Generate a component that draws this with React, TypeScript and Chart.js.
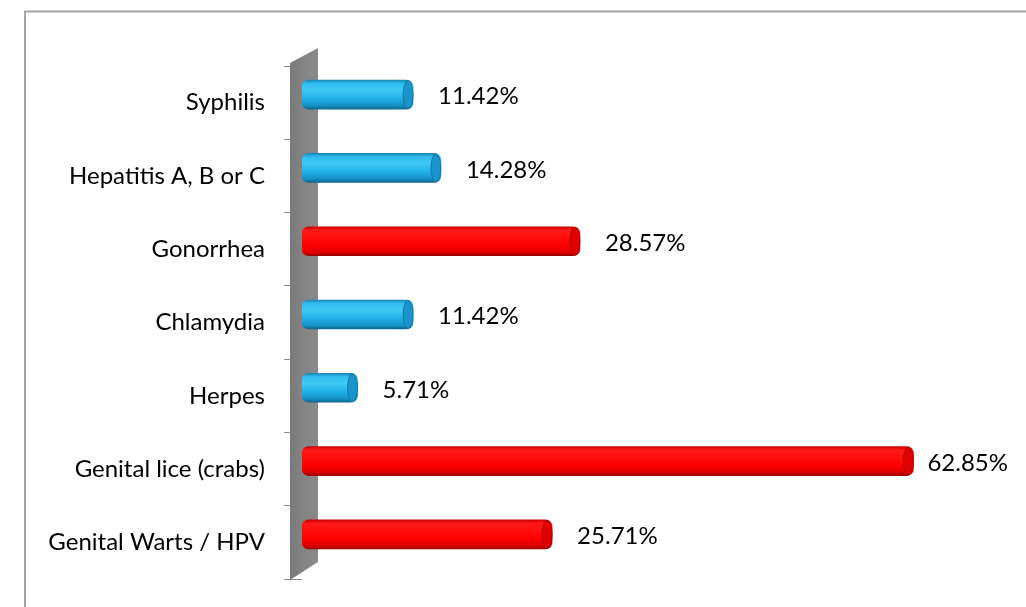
import React, { useEffect, useRef } from "react";
import { Chart, registerables } from "chart.js";

Chart.register(...registerables);

const categories = [
  "Syphilis",
  "Hepatitis A, B or C",
  "Gonorrhea",
  "Chlamydia",
  "Herpes",
  "Genital lice (crabs)",
  "Genital Warts / HPV",
];
const values = [11.42, 14.28, 28.57, 11.42, 5.71, 62.85, 25.71];
const valueLabels = ["11.42%", "14.28%", "28.57%", "11.42%", "5.71%", "62.85%", "25.71%"];
const barTones = ["blue", "blue", "red", "blue", "blue", "red", "red"];

const TONES: Record<string, { stops: [number, string][]; cap: string; edge: string }> = {
  blue: {
    stops: [
      [0, "#1a86b8"],
      [0.12, "#2fbdf0"],
      [0.35, "#3ec8f6"],
      [0.65, "#1eaee6"],
      [0.88, "#1690c6"],
      [1, "#10648e"],
    ],
    cap: "#1a95cc",
    edge: "#0f6f9e",
  },
  red: {
    stops: [
      [0, "#c80000"],
      [0.12, "#ff1a1a"],
      [0.35, "#ff1010"],
      [0.65, "#ff0000"],
      [0.88, "#e00000"],
      [1, "#9a0000"],
    ],
    cap: "#e00000",
    edge: "#a00000",
  },
};

const FONT = "Lato, 'Open Sans', sans-serif";
const BAR_SHIFT_Y = -8;
const BAR_THICK = 29;

export default function App() {
  const ref = useRef<HTMLCanvasElement | null>(null);

  useEffect(() => {
    document.body.style.margin = "0";
    const canvas = ref.current;
    if (!canvas) return;

    const framePlugin = {
      id: "frame",
      beforeDraw(chart: any) {
        const c = chart.ctx;
        c.save();
        c.fillStyle = "#ffffff";
        c.fillRect(0, 0, chart.width, chart.height);
        c.strokeStyle = "#a3a3a3";
        c.lineWidth = 2;
        c.beginPath();
        c.moveTo(25, chart.height);
        c.lineTo(25, 11.5);
        c.lineTo(chart.width, 11.5);
        c.stroke();
        c.restore();
      },
    };

    const wallPlugin = {
      id: "wall",
      beforeDatasetsDraw(chart: any) {
        const { top, bottom, left } = chart.chartArea;
        const c = chart.ctx;
        const xl = left - 12;
        const xr = left + 16;
        c.save();
        const g = c.createLinearGradient(xl, 0, xr, 0);
        g.addColorStop(0, "#7a7a7a");
        g.addColorStop(0.5, "#848484");
        g.addColorStop(1, "#8a8a8a");
        c.fillStyle = g;
        c.beginPath();
        c.moveTo(xl, top - 3);
        c.lineTo(xr, top - 18);
        c.lineTo(xr, bottom - 17);
        c.lineTo(xl, bottom + 1);
        c.closePath();
        c.fill();
        c.restore();
      },
    };

    const barShiftPlugin = {
      id: "barShift",
      beforeDatasetDraw(chart: any) {
        chart.ctx.save();
        chart.ctx.translate(0, BAR_SHIFT_Y);
      },
      afterDatasetDraw(chart: any, args: any) {
        const c = chart.ctx;
        const meta = chart.getDatasetMeta(args.index);
        meta.data.forEach((el: any, i: number) => {
          const tone = TONES[barTones[i]];
          const h = el.height;
          c.save();
          c.beginPath();
          c.ellipse(el.x - 5, el.y, 5, h / 2 - 0.5, 0, 0, Math.PI * 2);
          c.fillStyle = tone.cap;
          c.fill();
          c.strokeStyle = tone.edge;
          c.lineWidth = 0.8;
          c.stroke();
          c.restore();
        });
        c.restore();
      },
      afterDatasetsDraw(chart: any) {
        const c = chart.ctx;
        const meta = chart.getDatasetMeta(0);
        c.save();
        c.fillStyle = "#000000";
        c.font = `24px ${FONT}`;
        c.textAlign = "left";
        c.textBaseline = "middle";
        meta.data.forEach((el: any, i: number) => {
          const w = c.measureText(valueLabels[i]).width;
          const x = Math.min(el.x + 25, chart.width - 18 - w);
          c.fillText(valueLabels[i], x, el.y - 6);
        });
        c.restore();
      },
    };

    const chart = new Chart(canvas, {
      type: "bar",
      data: {
        labels: categories,
        datasets: [
          {
            data: values,
            barThickness: BAR_THICK,
            borderRadius: 7,
            borderSkipped: false,
            borderWidth: 0,
            backgroundColor: (ctx: any) => {
              const tone = TONES[barTones[ctx.dataIndex] || "blue"];
              const chartRef = ctx.chart;
              const ys = chartRef.scales && chartRef.scales.y;
              if (!ys || !chartRef.chartArea) return tone.stops[3][1];
              const yc = ys.getPixelForValue(ctx.dataIndex);
              const g = chartRef.ctx.createLinearGradient(0, yc - BAR_THICK / 2, 0, yc + BAR_THICK / 2);
              tone.stops.forEach(([o, col]) => g.addColorStop(o, col));
              return g;
            },
          },
        ],
      },
      options: {
        indexAxis: "y",
        animation: false,
        responsive: false,
        devicePixelRatio: 1,
        layout: { padding: { top: 66, bottom: 28, left: 0, right: 43 } },
        plugins: {
          legend: { display: false },
          tooltip: { enabled: false },
        },
        scales: {
          x: {
            display: false,
            min: 0,
            max: 70,
          },
          y: {
            afterFit: (scale: any) => {
              scale.width = 302;
              scale.paddingTop = 0;
              scale.paddingBottom = 0;
            },
            border: { display: false },
            grid: {
              display: true,
              drawOnChartArea: false,
              drawTicks: true,
              tickLength: 18,
              color: "#8a8a8a",
              lineWidth: 1,
            },
            ticks: {
              padding: 19,
              color: "#000000",
              font: { family: FONT, size: 24 },
            },
          },
        },
      },
      plugins: [framePlugin, wallPlugin, barShiftPlugin],
    } as any);

    return () => chart.destroy();
  }, []);

  return (
    <div style={{ width: 1026, height: 607, overflow: "hidden" }}>
      <canvas ref={ref} width={1026} height={607} style={{ display: "block" }} />
    </div>
  );
}
